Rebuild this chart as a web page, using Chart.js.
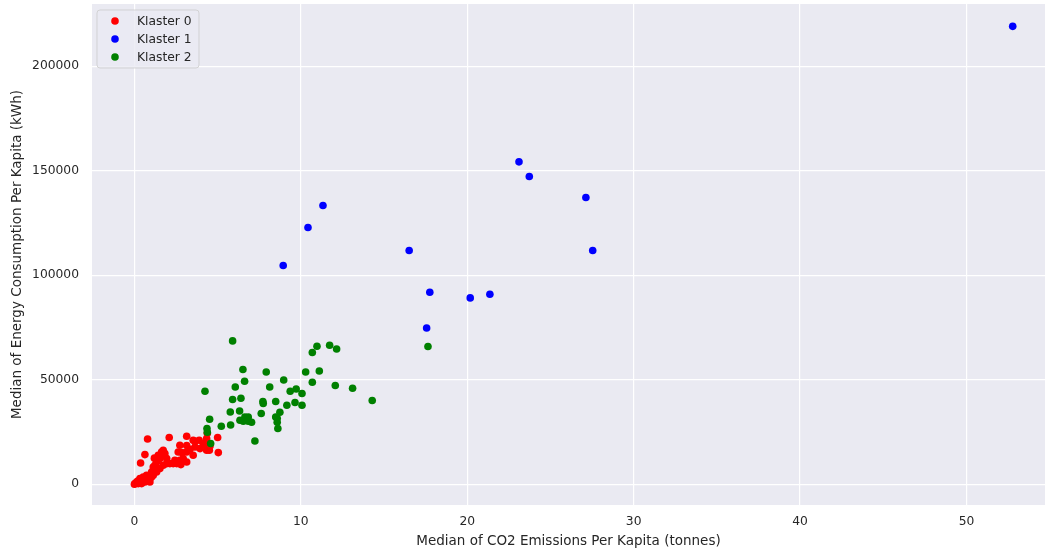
<!DOCTYPE html>
<html>
<head>
<meta charset="utf-8">
<script src="https://cdn.jsdelivr.net/npm/chart.js@4/dist/chart.umd.min.js"></script>
<style>
  html, body { margin: 0; padding: 0; background: #ffffff; }
  #wrap { width: 1046px; height: 554px; position: relative; }
</style>
</head>
<body>
<div id="wrap"><canvas id="c" width="1046" height="554"></canvas></div>
<script>
const seriesLabels = ["Klaster 0", "Klaster 1", "Klaster 2"];
const seriesColors = ["#ff0000", "#0000ff", "#008000"];

const klaster0X = [0.79,2.09,3.14,0.63,0.37,1.73,3.53,3.89,4.34,4.38,5.04,5.00,2.73,2.85,2.93,3.14,3.34,3.64,3.94,4.24,4.34,4.54,3.53,2.79,2.33,2.13,1.94,1.73,1.53,1.33,1.23,1.53,1.03,0.93,0.73,0.53,0.33,0.13,0.03,0.00,0.23,0.43,0.63,1.13,1.33,1.73,1.13,1.43,1.94,1.63,1.83,1.03,0.63,0.43,0.83,3.14,4.13,4.50,3.14,2.73,2.54,3.64,2.63,2.43,0.93,0.10,0.20,1.40,1.20];
const klaster0Y = [21680,22350,22970,14210,10190,16270,21050,21050,21870,24400,15170,22350,18660,15170,12300,15460,16750,17850,17080,18660,16270,18330,13880,9430,9900,9900,9900,13880,12300,10670,9090,7510,5890,2730,4310,3490,2730,1100,330,0,330,1910,2730,4310,5890,9090,8280,13880,12300,15460,14690,3490,1100,330,1910,18520,19480,16270,10670,11480,9900,20570,15460,11480,1100,500,1500,11500,12500];

const klaster1X = [8.94,10.43,11.33,16.51,17.75,17.56,20.18,21.36,23.11,23.73,27.13,27.54,52.78];
const klaster1Y = [104640,122820,133350,111820,91870,74780,89140,90910,154210,147230,137180,111820,219000];

const klaster2X = [5.90,4.24,6.52,7.92,6.62,6.06,8.97,8.13,5.90,6.40,7.72,7.74,8.49,9.36,9.72,10.07,9.65,10.07,9.16,10.29,11.11,10.69,10.69,10.97,11.73,12.15,12.07,13.11,14.29,5.76,6.32,6.34,6.64,6.84,6.54,7.04,6.84,5.78,5.22,7.62,8.49,8.74,8.58,8.58,8.62,4.52,4.36,7.24,4.58,17.64,4.38];
const klaster2Y = [68570,44500,54880,53740,49290,46560,49910,46560,40530,41150,39570,38610,39570,44500,45600,43400,39090,37800,37800,53740,54210,48810,63020,66030,66510,64740,47230,45940,40050,34600,35070,30620,32200,32200,30150,29670,30150,28380,27750,33830,32200,34450,31580,29670,26650,31100,26650,20720,19480,65890,24880];

const xTickValues = [0, 10, 20, 30, 40, 50];
const yTickValues = [0, 50000, 100000, 150000, 200000];
const xTitle = "Median of CO2 Emissions Per Kapita (tonnes)";
const yTitle = "Median of Energy Consumption Per Kapita (kWh)";

function zip(xs, ys) { return xs.map((x, i) => ({ x: x, y: ys[i] })); }

const allX = [klaster0X, klaster1X, klaster2X];
const allY = [klaster0Y, klaster1Y, klaster2Y];
const drawOrder = [2, 1, 0];

const datasets = seriesLabels.map((lab, i) => ({
  label: lab,
  data: zip(allX[i], allY[i]),
  backgroundColor: seriesColors[i],
  borderColor: seriesColors[i],
  borderWidth: 0,
  pointRadius: 3.8,
  pointHoverRadius: 3.8,
  order: drawOrder[i]
}));

const TEXT = "#262626";
const FONT = "'DejaVu Sans', sans-serif";

const bgPlugin = {
  id: 'plotBg',
  beforeDraw(chart) {
    const { ctx, chartArea: a } = chart;
    ctx.save();
    ctx.fillStyle = '#ffffff';
    ctx.fillRect(0, 0, chart.width, chart.height);
    ctx.fillStyle = '#eaeaf2';
    ctx.fillRect(a.left, a.top, a.right - a.left, a.bottom - a.top);
    ctx.restore();
  }
};

const legendPlugin = {
  id: 'innerLegend',
  afterDraw(chart) {
    const { ctx, chartArea: a } = chart;
    const x0 = a.left + 5, y0 = a.top + 6, w = 102, h = 58, r = 3;
    ctx.save();
    ctx.beginPath();
    ctx.moveTo(x0 + r, y0);
    ctx.lineTo(x0 + w - r, y0);
    ctx.arcTo(x0 + w, y0, x0 + w, y0 + r, r);
    ctx.lineTo(x0 + w, y0 + h - r);
    ctx.arcTo(x0 + w, y0 + h, x0 + w - r, y0 + h, r);
    ctx.lineTo(x0 + r, y0 + h);
    ctx.arcTo(x0, y0 + h, x0, y0 + h - r, r);
    ctx.lineTo(x0, y0 + r);
    ctx.arcTo(x0, y0, x0 + r, y0, r);
    ctx.closePath();
    ctx.fillStyle = 'rgba(234,234,242,0.8)';
    ctx.fill();
    ctx.strokeStyle = 'rgba(204,204,204,0.8)';
    ctx.lineWidth = 1;
    ctx.stroke();
    ctx.font = "12.3px " + FONT;
    ctx.textBaseline = 'middle';
    ctx.textAlign = 'left';
    chart.data.datasets.forEach((ds, i) => {
      const cy = y0 + 11 + i * 18;
      ctx.beginPath();
      ctx.fillStyle = ds.backgroundColor;
      ctx.arc(x0 + 18, cy, 3.8, 0, Math.PI * 2);
      ctx.fill();
      ctx.fillStyle = TEXT;
      ctx.fillText(ds.label, x0 + 40, cy + 0.5);
    });
    ctx.restore();
  }
};

function noPad(scale) {
  scale.paddingLeft = 0; scale.paddingRight = 0;
  scale.paddingTop = 0; scale.paddingBottom = 0;
}

new Chart(document.getElementById('c'), {
  type: 'scatter',
  data: { datasets: datasets },
  plugins: [bgPlugin, legendPlugin],
  options: {
    responsive: false,
    animation: false,
    devicePixelRatio: 1,
    layout: { autoPadding: false, padding: { top: 4, right: 1, left: 0, bottom: 0 } },
    plugins: { legend: { display: false }, tooltip: { enabled: false } },
    scales: {
      x: {
        type: 'linear',
        min: -2.55,
        max: 54.72,
        afterBuildTicks(scale) { scale.ticks = xTickValues.map(v => ({ value: v })); },
        afterFit(scale) { scale.height = 49; noPad(scale); },
        ticks: { color: TEXT, font: { family: FONT, size: 12.3 }, padding: 9, includeBounds: false },
        grid: { color: '#ffffff', lineWidth: 1.2, drawTicks: false },
        border: { display: false },
        title: { display: true, text: xTitle, color: TEXT, font: { family: FONT, size: 13.5 }, padding: { top: 4, bottom: 4 } }
      },
      y: {
        type: 'linear',
        min: -9900,
        max: 229700,
        afterBuildTicks(scale) { scale.ticks = yTickValues.map(v => ({ value: v })); },
        afterFit(scale) { scale.width = 92; noPad(scale); },
        ticks: { color: TEXT, font: { family: FONT, size: 12.3 }, padding: 13, includeBounds: false,
                 callback: (v) => String(v) },
        grid: { color: '#ffffff', lineWidth: 1.2, drawTicks: false },
        border: { display: false },
        title: { display: true, text: yTitle, color: TEXT, font: { family: FONT, size: 13.5 }, padding: { top: 9, bottom: 4 } }
      }
    }
  }
});
</script>
</body>
</html>
